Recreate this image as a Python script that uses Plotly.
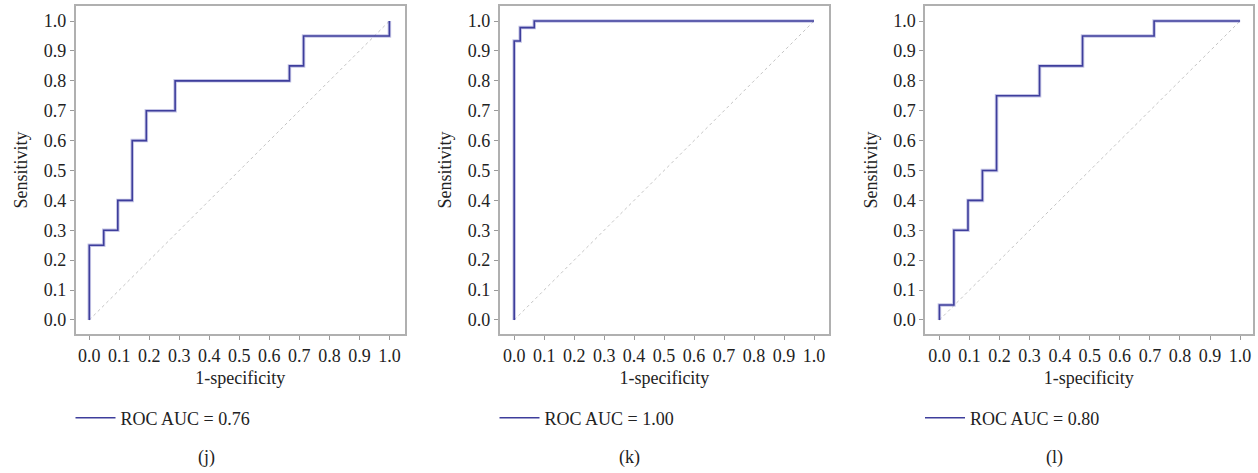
import plotly.graph_objects as go

# ROC corner points (1-specificity, sensitivity)
fpr_j = [0.0, 0.0, 0.048, 0.095, 0.143, 0.190, 0.286, 0.667, 0.714, 1.0]
tpr_j = [0.0, 0.25, 0.30, 0.40, 0.60, 0.70, 0.80, 0.85, 0.95, 1.0]

fpr_k = [0.0, 0.0, 0.020, 0.067, 1.0]
tpr_k = [0.0, 0.933, 0.978, 1.0, 1.0]

fpr_l = [0.0, 0.0, 0.048, 0.095, 0.143, 0.190, 0.333, 0.476, 0.714, 1.0]
tpr_l = [0.0, 0.05, 0.30, 0.40, 0.50, 0.75, 0.85, 0.95, 1.0, 1.0]

auc_labels = ["ROC AUC = 0.76", "ROC AUC = 1.00", "ROC AUC = 0.80"]
panel_labels = ["(j)", "(k)", "(l)"]
diag = [0.0, 1.0]
tick_vals = [0.0, 0.1, 0.2, 0.3, 0.4, 0.5, 0.6, 0.7, 0.8, 0.9, 1.0]
tick_text = ["0.0", "0.1", "0.2", "0.3", "0.4", "0.5", "0.6", "0.7", "0.8", "0.9", "1.0"]

FONT = "Liberation Serif"
FS = 18
TXT = "#222222"
LINE = "#3e3e9c"
HALO = "rgba(140,140,205,0.5)"
FRAME = "#b0b0b0"

W, H = 1258, 473
x_domains = [[75.5 / W, 405 / W], [499.5 / W, 829.3 / W], [925 / W, 1252.7 / W]]
x_ranges = [[-0.046, 1.052], [-0.049, 1.051], [-0.048, 1.042]]
y_domain = [1 - 334.3 / H, 1 - 5.5 / H]
y_range = [-0.048, 1.052]

fig = go.Figure()
series = [(fpr_j, tpr_j), (fpr_k, tpr_k), (fpr_l, tpr_l)]
legend_names = ["legend", "legend2", "legend3"]

for i, (fx, ty) in enumerate(series):
    xa = "x" if i == 0 else f"x{i+1}"
    ya = "y" if i == 0 else f"y{i+1}"
    fig.add_trace(go.Scatter(x=diag, y=diag, mode="lines", xaxis=xa, yaxis=ya,
                             line=dict(color="#c4c4c4", width=1, dash="dot"),
                             showlegend=False, hoverinfo="skip"))
    fig.add_trace(go.Scatter(x=fx, y=ty, mode="lines", xaxis=xa, yaxis=ya,
                             line=dict(color=HALO, width=3.5, shape="hv"),
                             showlegend=False, hoverinfo="skip"))
    fig.add_trace(go.Scatter(x=fx, y=ty, mode="lines", xaxis=xa, yaxis=ya,
                             line=dict(color=LINE, width=1.6, shape="hv"),
                             name=auc_labels[i], legend=legend_names[i]))

axis_common = dict(
    showline=True, linecolor=FRAME, linewidth=1.5, mirror=True,
    showgrid=False, zeroline=False,
    ticks="outside", ticklen=4, tickcolor="#9a9a9a", tickwidth=1,
    tickvals=tick_vals, ticktext=tick_text,
    tickfont=dict(family=FONT, size=FS, color=TXT),
)

layout = dict(
    width=W, height=H,
    margin=dict(l=0, r=0, t=0, b=0),
    paper_bgcolor="white", plot_bgcolor="white",
    font=dict(family=FONT, size=FS, color=TXT),
    annotations=[],
)

for i in range(3):
    xk = "xaxis" if i == 0 else f"xaxis{i+1}"
    yk = "yaxis" if i == 0 else f"yaxis{i+1}"
    ya = "y" if i == 0 else f"y{i+1}"
    xa = "x" if i == 0 else f"x{i+1}"
    layout[xk] = dict(axis_common, domain=x_domains[i], range=x_ranges[i], anchor=ya,
                      title=dict(text="1-specificity", standoff=7,
                                 font=dict(family=FONT, size=FS, color=TXT)))
    layout[yk] = dict(axis_common, domain=y_domain, range=y_range, anchor=xa,
                      title=dict(text="Sensitivity", standoff=11,
                                 font=dict(family=FONT, size=FS, color=TXT)))
    layout[legend_names[i]] = dict(
        x=x_domains[i][0] - 5 / W, y=1 - 418 / H, xanchor="left", yanchor="middle",
        bgcolor="rgba(0,0,0,0)", borderwidth=0, itemwidth=40,
        font=dict(family=FONT, size=FS, color=TXT),
    )

label_x = [207, 630, 1054]
for i in range(3):
    layout["annotations"].append(dict(
        text=panel_labels[i], x=label_x[i] / W, y=1 - 457.7 / H,
        xref="paper", yref="paper", showarrow=False,
        xanchor="center", yanchor="middle",
        font=dict(family=FONT, size=FS, color=TXT)))

fig.update_layout(**layout)
fig.write_html("out.html")
